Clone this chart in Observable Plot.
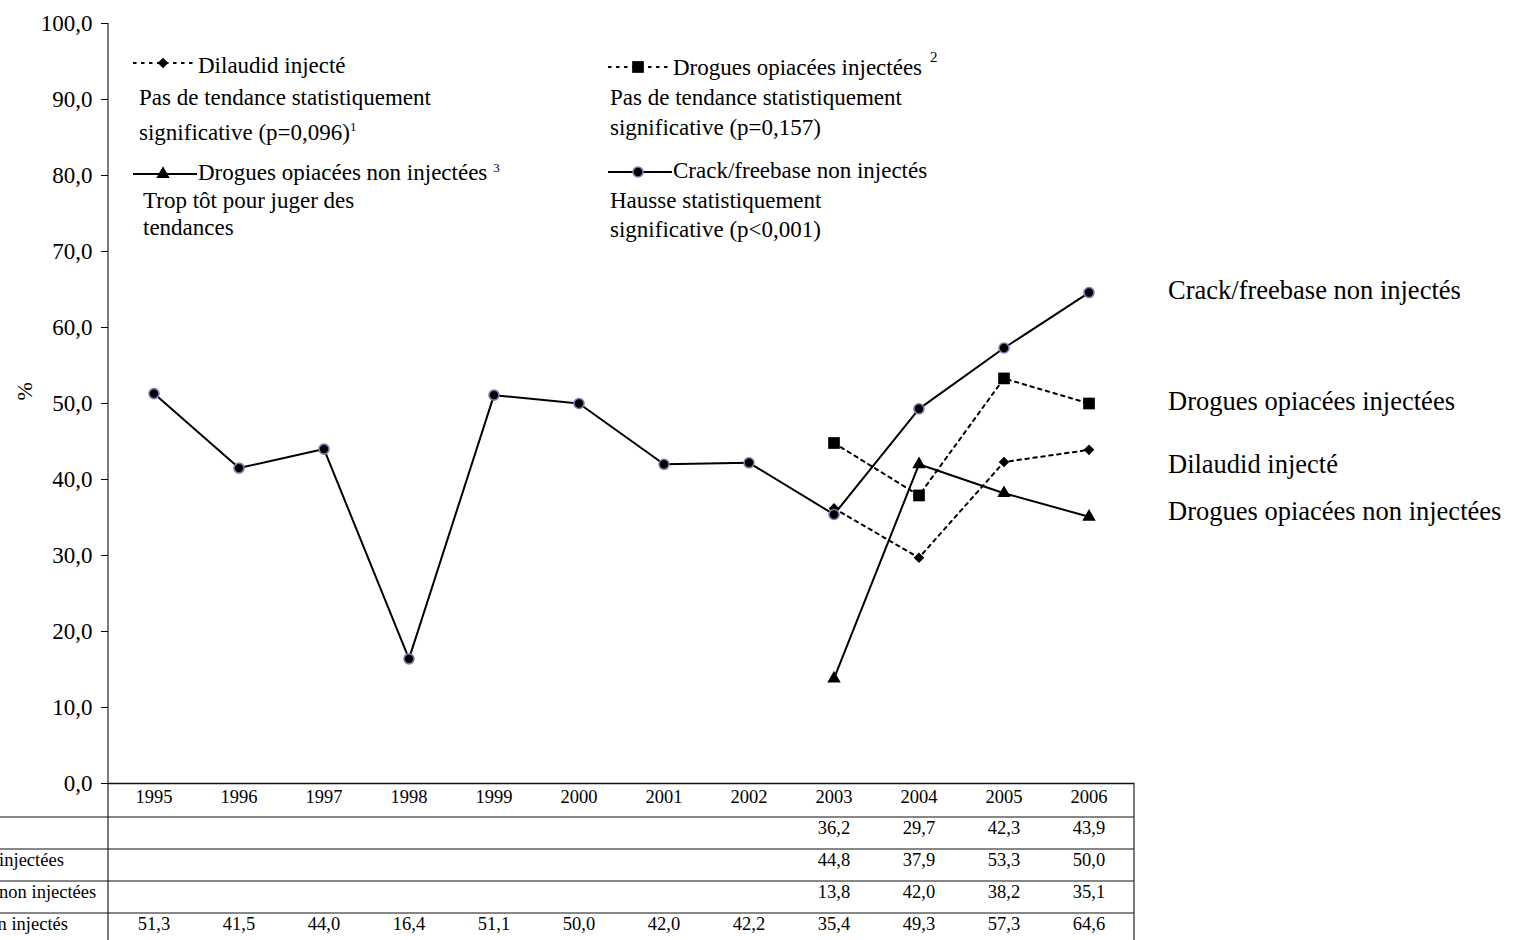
<!DOCTYPE html>
<html><head><meta charset="utf-8">
<script src="https://cdn.jsdelivr.net/npm/d3@7"></script>
<script src="https://cdn.jsdelivr.net/npm/@observablehq/plot@0.6"></script>
<style>
html,body{margin:0;padding:0;background:#fff;overflow:hidden;width:1514px;height:940px;}
#wrap{position:relative;width:1514px;height:940px;overflow:hidden;background:#fff;}
#chart{position:absolute;left:-150px;top:0;}
#legend{position:absolute;left:0;top:0;pointer-events:none;}
</style></head><body>
<div id="wrap"><div id="chart"></div><svg id="legend" width="1514" height="260"></svg></div>
<script>
// ---- data ----
const years = [1995, 1996, 1997, 1998, 1999, 2000, 2001, 2002, 2003, 2004, 2005, 2006];
const dilaudid      = [null, null, null, null, null, null, null, null, 36.2, 29.7, 42.3, 43.9];
const opiacesInj    = [null, null, null, null, null, null, null, null, 44.8, 37.9, 53.3, 50.0];
const opiacesNonInj = [null, null, null, null, null, null, null, null, 13.8, 42.0, 38.2, 35.1];
const crack         = [51.3, 41.5, 44.0, 16.4, 51.1, 50.0, 42.0, 42.2, 35.4, 49.3, 57.3, 64.6];
const seriesNames = ["Dilaudid injecté", "Drogues opiacées injectées", "Drogues opiacées non injectées", "Crack/freebase non injectés"];
const yTicks = [0, 10, 20, 30, 40, 50, 60, 70, 80, 90, 100];
const legendNotes = [
  ["Pas de tendance statistiquement", "significative (p=0,096)"],
  ["Pas de tendance statistiquement", "significative (p=0,157)"],
  ["Trop tôt pour juger des", "tendances"],
  ["Hausse statistiquement", "significative (p<0,001)"]
];
const footnoteMarks = ["1", "2", "3", ""];

// ---- styles ----
const FONT = "'Liberation Serif', 'Times New Roman', serif";
const styles = [
  {symbol: "diamond2", r: 4.8, dash: "3.5,4.5", fill: "black", stroke: "none"},
  {symbol: "square", r: 6.6, dash: "3.5,4.5", fill: "black", stroke: "none"},
  {symbol: "triangle", r: 5, dash: null, fill: "black", stroke: "none"},
  {symbol: "circle", r: 5, dash: null, fill: "black", stroke: "#7b7bb2"}
];
const labelDy = [15, -2, -5, -2];

const allValues = [dilaudid, opiacesInj, opiacesNonInj, crack];
const rows = allValues.map((vals, k) =>
  years.map((year, i) => ({year, value: vals[i], name: seriesNames[k]})).filter(d => d.value != null));
const fmt = v => d3.format(".1f")(v).replace(".", ",");

const L = 150;            // hidden area on the left (row labels are cut like the reference)
const W = 1514 + L;
const H = 940;

// table grid drawn from the plot's frame dimensions
function tableGrid(index, scales, values, dims) {
  const {width, height, marginLeft, marginRight, marginTop, marginBottom} = dims;
  const x0 = marginLeft, x1 = width - marginRight, y0 = height - marginBottom;
  const g = d3.create("svg:g").attr("stroke", "#111").attr("fill", "none");
  g.append("line").attr("x1", x0).attr("x2", x0).attr("y1", marginTop).attr("y2", height).attr("stroke-width", 1.1);
  g.append("line").attr("x1", x0).attr("x2", x1).attr("y1", y0 + 0.5).attr("y2", y0 + 0.5).attr("stroke-width", 1.4);
  g.append("line").attr("x1", x1).attr("x2", x1).attr("y1", y0).attr("y2", height).attr("stroke-width", 1.1);
  for (let k = 0; k < 4; ++k) {
    const y = y0 + 34 + 32 * k;
    g.append("line").attr("x1", 0).attr("x2", x1).attr("y1", y).attr("y2", y).attr("stroke-width", 1);
  }
  return g.node();
}

const marks = [tableGrid,
  Plot.axisY({ticks: yTicks, tickFormat: fmt, tickSize: 7, tickPadding: 9, fontSize: 23, label: null}),
  Plot.text(["%"], {frameAnchor: "left", dx: -84, dy: -3, rotate: -90, fontSize: 22})
];
rows.forEach((r, k) => {
  const s = styles[k];
  marks.push(Plot.line(r, {x: "year", y: "value", stroke: "black", strokeWidth: 2, strokeDasharray: s.dash}));
});
[0, 1, 2, 3].forEach(k => {
  const s = styles[k];
  marks.push(Plot.dot(rows[k], {x: "year", y: "value", symbol: s.symbol, r: s.r, fill: s.fill, stroke: s.stroke, strokeWidth: 1.6}));
});
rows.forEach((r, k) => {
  marks.push(Plot.text(r.slice(-1), {x: "year", y: "value", text: "name", textAnchor: "start", dx: 79, dy: labelDy[k], fontSize: 26.5}));
});
// table
marks.push(Plot.text(years, {x: d => d, text: d => String(d), frameAnchor: "bottom", dy: 19, fontSize: 18.5}));
rows.forEach((r, k) => {
  marks.push(Plot.text(r, {x: "year", text: d => fmt(d.value), frameAnchor: "bottom", dy: 50 + 32 * k, fontSize: 18.5}));
  marks.push(Plot.text([seriesNames[k]], {frameAnchor: "bottom-left", textAnchor: "start", dx: -245, dy: 50 + 32 * k, fontSize: 18.5}));
});

const chart = Plot.plot({
  width: W, height: H,
  marginLeft: L + 108, marginRight: 380, marginTop: 23, marginBottom: 157,
  x: {type: "band", domain: years, padding: 0, axis: null},
  y: {domain: [0, 100], axis: null},
  style: {fontFamily: FONT, fontSize: "18.5px", color: "black", background: "white", maxWidth: "none", overflow: "visible"},
  marks
});
document.getElementById("chart").appendChild(chart);

// ---- legend (inside plot area, top) ----
const lg = d3.select("#legend").attr("font-family", FONT).attr("font-size", 23).attr("fill", "black");
const legendLayout = [
  {sx: 133, sy: 63, tx: 198, ty: 73, nx: 139, ny: [105, 140]},
  {sx: 608, sy: 67, tx: 673, ty: 75, nx: 610, ny: [105, 135]},
  {sx: 133, sy: 174, tx: 198, ty: 180, nx: 143, ny: [208, 235]},
  {sx: 608, sy: 172, tx: 673, ty: 178, nx: 610, ny: [208, 237]}
];
const symMap = {diamond2: d3.symbolDiamond2, square: d3.symbolSquare, triangle: d3.symbolTriangle, circle: d3.symbolCircle};
legendLayout.forEach((p, k) => {
  const s = styles[k];
  lg.append("line").attr("x1", p.sx).attr("x2", p.sx + 64).attr("y1", p.sy).attr("y2", p.sy)
    .attr("stroke", "black").attr("stroke-width", 2).attr("stroke-dasharray", s.dash);
  lg.append("path").attr("transform", `translate(${p.sx + 30},${p.sy})`)
    .attr("d", d3.symbol(symMap[s.symbol], Math.PI * s.r * s.r)())
    .attr("fill", s.fill).attr("stroke", s.stroke).attr("stroke-width", 1.6);
  const t = lg.append("text").attr("x", p.tx).attr("y", p.ty).text(seriesNames[k]);
  if (k === 1) t.append("tspan").attr("dx", 8).attr("dy", -13).attr("font-size", 15).text(footnoteMarks[k]);
  if (k === 2) t.append("tspan").attr("dx", 6).attr("dy", -8).attr("font-size", 13).text(footnoteMarks[k]);
  lg.append("text").attr("x", p.nx).attr("y", p.ny[0]).text(legendNotes[k][0]);
  const n1 = lg.append("text").attr("x", p.nx).attr("y", p.ny[1]).text(legendNotes[k][1]);
  if (k === 0) n1.append("tspan").attr("dy", -9).attr("font-size", 13).text(footnoteMarks[k]);
});
</script>
</body></html>
